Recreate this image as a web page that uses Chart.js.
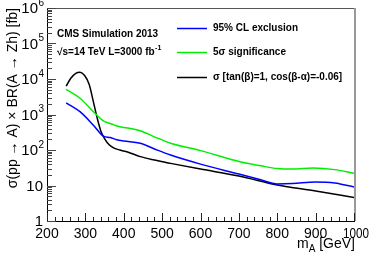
<!DOCTYPE html>
<html><head><meta charset="utf-8">
<script src="https://cdn.jsdelivr.net/npm/chart.js@4"></script>
<style>html,body{margin:0;padding:0;background:#fff}canvas{display:block}</style>
</head><body>
<canvas id="c" width="378" height="256"></canvas>
<script>
// ---- data ----
const massExcl = [250, 286, 321, 347, 365, 382, 400, 443, 480, 522, 600, 700, 757, 800, 840, 900, 950, 1000];
const xsecExcl = [2140, 1200, 500, 247, 225, 195, 180, 155, 107, 72, 40, 21, 14.5, 11, 11.3, 12.6, 11.8, 9.1];
const massSig = [250, 286, 321, 347, 365, 382, 410, 443, 480, 522, 600, 705, 757, 800, 840, 893, 950, 1000];
const xsecSig = [5100, 2870, 1200, 660, 560, 475, 415, 350, 235, 155, 96, 46, 36, 30, 29, 31, 28, 22];
const massTheory = [250, 262, 275, 286, 298, 310, 320, 330, 340, 350, 362, 375, 390, 410, 443, 480, 522, 600, 700, 800, 900, 1000];
const xsecTheory = [6300, 10500, 14500, 15500, 12500, 7000, 2500, 860, 350, 210, 140, 113, 100, 88, 65, 52, 42, 29, 18.5, 10.3, 7, 4.6];
const xTickLabels = [200, 300, 400, 500, 600, 700, 800, 900, 1000];
const yTickExponents = [0, 1, 2, 3, 4, 5, 6];
const legendLabels = ['95% CL exclusion', '5\u03c3 significance', '\u03c3 [tan(\u03b2)=1, cos(\u03b2-\u03b1)=-0.06]'];
const seriesColors = ['#0000ff', '#00ee00', '#000000'];

const toPts = (xs, ys) => xs.map((x, i) => ({x: x, y: ys[i]}));
const FONT = '"Liberation Sans", Arial, Helvetica, sans-serif';
const SUP = ['', '', '2', '3', '4', '5', '6'];

const deco = {
  id: 'deco',
  afterDraw(chart) {
    const ctx = chart.ctx, a = chart.chartArea, xs = chart.scales.x, ys = chart.scales.y;
    ctx.save();
    // frame
    ctx.strokeStyle = '#555'; ctx.lineWidth = 1;
    ctx.beginPath(); ctx.moveTo(a.left, a.top + 0.5); ctx.lineTo(a.right, a.top + 0.5); ctx.stroke();
    ctx.strokeStyle = '#999'; ctx.lineWidth = 2;
    ctx.beginPath(); ctx.moveTo(a.right + 1, a.top); ctx.lineTo(a.right + 1, a.bottom); ctx.stroke();
    ctx.strokeStyle = '#000'; ctx.lineWidth = 1;
    ctx.beginPath(); ctx.moveTo(a.left + 0.5, a.top); ctx.lineTo(a.left + 0.5, a.bottom + 0.5); ctx.lineTo(a.right + 1, a.bottom + 0.5); ctx.stroke();
    // x ticks
    ctx.strokeStyle = '#222'; ctx.lineWidth = 1;
    ctx.beginPath();
    for (let v = 200; v <= 1000; v += 20) {
      const px = Math.round(xs.getPixelForValue(v)) + 0.5;
      const len = (v % 100 === 0) ? 8 : 4;
      ctx.moveTo(px, a.bottom); ctx.lineTo(px, a.bottom - len);
    }
    ctx.stroke();
    // y ticks
    ctx.strokeStyle = '#444';
    ctx.beginPath();
    for (let d = 0; d <= 5; d++) {
      for (let k = 1; k <= 9; k++) {
        const py = Math.round(ys.getPixelForValue(k * Math.pow(10, d))) + 0.5;
        const len = (k === 1) ? 9 : 5;
        ctx.moveTo(a.left, py); ctx.lineTo(a.left + len, py);
      }
    }
    const ptop = Math.round(ys.getPixelForValue(1e6)) + 0.5;
    ctx.moveTo(a.left, ptop); ctx.lineTo(a.left + 9, ptop);
    ctx.stroke();
    // x labels
    ctx.fillStyle = '#000';
    ctx.font = '14px ' + FONT;
    ctx.textAlign = 'center'; ctx.textBaseline = 'middle';
    xTickLabels.forEach(v => {
      const px = xs.getPixelForValue(v);
      if (v === 1000) ctx.fillText(String(v), px + 2, 234, 26);
      else ctx.fillText(String(v), px, 234);
    });
    // y labels
    yTickExponents.forEach(e => {
      const py = ys.getPixelForValue(Math.pow(10, e));
      ctx.textBaseline = 'middle';
      if (e === 0 || e === 1) {
        ctx.textAlign = 'right'; ctx.font = '15px ' + FONT;
        ctx.fillText(e === 0 ? '1' : '10', 43, py + 1);
      } else {
        ctx.textAlign = 'right'; ctx.font = '15px ' + FONT;
        ctx.fillText('10', 38, py + 1);
        ctx.textAlign = 'left'; ctx.font = '10px ' + FONT;
        ctx.fillText(SUP[e], 38.5, py - 5);
      }
    });
    // y title
    ctx.save();
    ctx.translate(13, a.top);
    ctx.rotate(-Math.PI / 2);
    ctx.textAlign = 'right'; ctx.textBaseline = 'middle';
    ctx.font = '14px ' + FONT;
    ctx.fillText('\u03c3(pp \u2192 A) \u00d7 BR(A \u2192 Zh) [fb]', 0, 0);
    ctx.restore();
    // x title: m_A [GeV]
    ctx.textBaseline = 'alphabetic'; ctx.textAlign = 'left';
    ctx.font = '14px ' + FONT;
    const t3 = ' [GeV]';
    const w3 = ctx.measureText(t3).width;
    ctx.font = '10px ' + FONT;
    const w2 = ctx.measureText('A').width;
    ctx.font = '14px ' + FONT;
    const w1 = ctx.measureText('m').width;
    let x0 = a.right + 1 - (w1 + w2 + w3);
    ctx.fillText('m', x0, 248);
    ctx.font = '10px ' + FONT;
    ctx.fillText('A', x0 + w1, 252);
    ctx.font = '14px ' + FONT;
    ctx.fillText(t3, x0 + w1 + w2, 248);
    // CMS text
    ctx.font = 'bold 10px ' + FONT;
    ctx.textBaseline = 'middle';
    ctx.fillText('CMS Simulation 2013', 57, 34);
    const s1 = '\u221as=14 TeV L=3000 fb';
    ctx.fillText(s1, 57, 52);
    const ws = ctx.measureText(s1).width;
    ctx.font = 'bold 7px ' + FONT;
    ctx.fillText('-1', 57 + ws + 0.5, 48);
    // legend
    const ly = [28, 52, 77];
    legendLabels.forEach((lab, i) => {
      ctx.strokeStyle = seriesColors[i]; ctx.lineWidth = 1.5;
      ctx.beginPath(); ctx.moveTo(177, ly[i] + 0.5); ctx.lineTo(207, ly[i] + 0.5); ctx.stroke();
      ctx.fillStyle = '#000';
      ctx.font = 'bold 10px ' + FONT;
      ctx.textAlign = 'left'; ctx.textBaseline = 'middle';
      ctx.fillText(lab, 213, ly[i]);
    });
    ctx.restore();
  }
};

new Chart(document.getElementById('c'), {
  type: 'line',
  data: {
    datasets: [
      {label: legendLabels[0], data: toPts(massExcl, xsecExcl), borderColor: seriesColors[0]},
      {label: legendLabels[1], data: toPts(massSig, xsecSig), borderColor: seriesColors[1]},
      {label: legendLabels[2], data: toPts(massTheory, xsecTheory), borderColor: seriesColors[2]}
    ]
  },
  options: {
    responsive: false,
    animation: false,
    devicePixelRatio: 1,
    layout: {padding: {left: 47, right: 24, top: 8, bottom: 35}},
    elements: {
      point: {radius: 0},
      line: {borderWidth: 1.5, tension: 0.4, cubicInterpolationMode: 'monotone', fill: false}
    },
    plugins: {legend: {display: false}, tooltip: {enabled: false}},
    scales: {
      x: {type: 'linear', min: 200, max: 1000, display: false},
      y: {type: 'logarithmic', min: 1, max: 1e6, display: false}
    }
  },
  plugins: [deco]
});
</script>
</body></html>
